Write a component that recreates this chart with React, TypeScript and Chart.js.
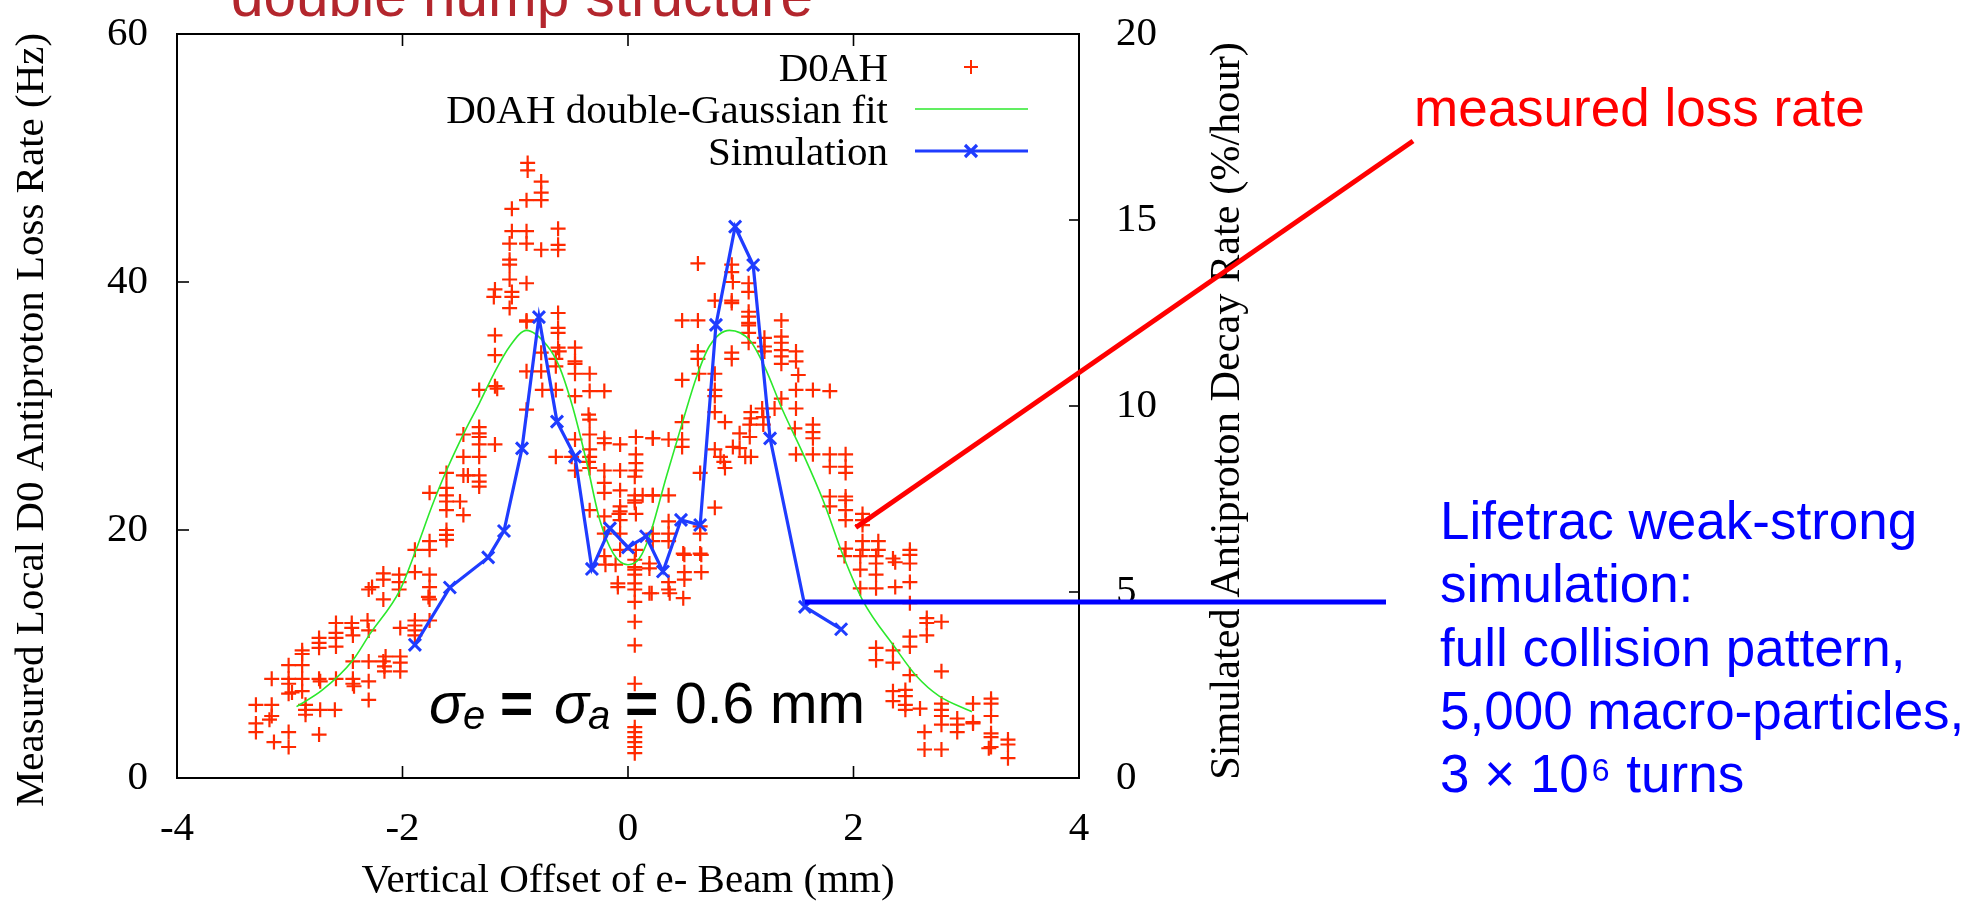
import React, { useEffect, useRef } from "react";
import { Chart, registerables } from "chart.js";

Chart.register(...registerables);

// ---------- data ----------
const xTickStep = 2;
const yTickStep = 20;
const y2TickStep = 5;

const lossLabel = "D0AH";
const fitLabel = "D0AH double-Gaussian fit";
const simLabel = "Simulation";

// measured local D0 loss rate (Hz) vs vertical offset (mm)
const lossPts: [number, number][] = [
  [-3.30, 5.9], [-3.16, 5.9], [-3.16, 5.0], [-3.30, 4.4], [-3.18, 4.7], [-3.30, 3.7], [-3.14, 2.9], [-3.01, 3.7], [-3.01, 2.5],
  [-3.16, 8.0], [-3.01, 8.0], [-3.01, 9.1], [-2.89, 9.1], [-3.01, 7.6], [-3.01, 6.8], [-2.98, 6.9], [-2.89, 10.3], [-2.89, 10.0],
  [-2.89, 8.0], [-2.89, 7.0], [-2.86, 5.9], [-2.86, 5.5], [-2.86, 5.1],
  [-2.74, 8.0], [-2.73, 7.8], [-2.73, 5.5], [-2.60, 5.5], [-2.74, 3.5], [-2.74, 11.3], [-2.74, 10.9], [-2.74, 10.5],
  [-2.59, 11.7], [-2.59, 11.3], [-2.59, 10.6], [-2.59, 8.0], [-2.59, 12.5], [-2.45, 12.5], [-2.45, 12.1], [-2.44, 11.5],
  [-2.31, 12.7], [-2.30, 11.9], [-2.44, 9.4], [-2.44, 8.0], [-2.44, 7.6], [-2.43, 7.4], [-2.30, 7.8], [-2.30, 6.3],
  [-2.30, 9.4], [-2.17, 9.4], [-2.15, 9.8], [-2.16, 9.0], [-2.16, 8.6], [-2.02, 9.8], [-2.02, 9.3], [-2.02, 8.6],
  [-2.30, 15.2], [-2.27, 15.4], [-2.17, 14.4], [-2.17, 16.5], [-2.17, 16.0], [-2.03, 16.4], [-2.03, 15.8], [-2.03, 15.2],
  [-1.89, 16.6], [-1.76, 16.4], [-1.76, 15.4], [-1.77, 14.6], [-1.76, 14.4], [-1.89, 12.7], [-1.89, 12.3], [-1.89, 11.9],
  [-1.89, 11.5], [-2.02, 12.1], [-1.76, 12.7], [-1.89, 18.4], [-1.76, 18.4],
  [-1.76, 19.1], [-1.61, 20.0], [-1.61, 19.6], [-1.61, 19.2], [-1.76, 23.0], [-1.61, 23.4], [-1.61, 22.8], [-1.61, 22.3],
  [-1.61, 21.6], [-1.61, 24.6], [-1.49, 22.3], [-1.46, 21.2], [-1.46, 24.4], [-1.42, 24.4], [-1.32, 24.4], [-1.32, 23.9],
  [-1.32, 23.5], [-1.46, 25.9], [-1.32, 25.9], [-1.46, 27.7], [-1.32, 28.3], [-1.32, 27.8], [-1.32, 27.5], [-1.32, 26.9],
  [-1.18, 26.9], [-1.32, 31.3], [-1.18, 31.6], [-1.16, 31.4], [-1.18, 34.1], [-1.18, 35.7], [-0.90, 32.8], [-0.77, 32.8],
  [-0.90, 29.7], [-0.90, 36.8], [-0.77, 34.3], [-0.76, 31.3], [-0.64, 31.3], [-0.62, 35.9], [-0.62, 34.7], [-0.61, 34.4],
  [-0.64, 33.8], [-0.64, 33.2], [-0.47, 34.7], [-0.47, 33.6], [-0.47, 33.4], [-0.47, 32.6], [-0.47, 30.8], [-0.34, 32.6],
  [-0.34, 31.2], [-0.21, 31.2], [-0.35, 29.3], [-0.34, 28.9], [-0.34, 27.7], [-0.47, 27.3], [-0.64, 25.9], [-0.50, 25.9],
  [-0.34, 26.5], [-0.34, 25.9], [-0.35, 25.5], [-0.34, 25.0], [-0.47, 24.8], [-0.21, 27.4], [-0.21, 27.0], [-0.07, 26.9],
  [0.07, 27.5], [0.22, 27.4], [0.07, 26.1], [0.07, 25.4], [0.07, 24.8], [0.06, 24.3], [-0.21, 24.8], [-0.07, 24.8],
  [-0.21, 23.8], [-0.21, 23.0], [-0.07, 23.2], [0.06, 22.8], [0.06, 22.4], [0.06, 22.2], [0.07, 21.3], [0.13, 22.8],
  [0.22, 22.8], [-0.07, 21.9], [-0.07, 21.5], [-0.08, 21.3], [-0.34, 21.6], [-0.21, 21.1], [-0.07, 20.8], [-0.21, 19.7],
  [-0.07, 19.7], [-0.07, 18.4], [-0.21, 17.9], [0.07, 18.4], [0.22, 19.7], [0.22, 19.1],
  [-0.89, 49.6], [-0.89, 49.0], [-0.77, 48.1], [-0.77, 47.2], [-0.77, 46.6], [-0.90, 46.6], [-1.03, 45.9], [-1.03, 44.1],
  [-0.90, 44.1], [-0.62, 44.3], [-1.05, 43.1], [-0.90, 43.1], [-0.77, 42.6], [-0.62, 43.0], [-0.62, 42.6], [-1.05, 41.8],
  [-1.05, 41.4], [-1.05, 40.2], [-0.90, 39.9], [-1.18, 39.4], [-1.19, 38.8], [-1.03, 39.2], [-1.03, 38.8], [-1.05, 37.9],
  [-0.90, 36.9], [-0.62, 37.5], [-0.62, 36.3],
  [0.06, 17.6], [0.06, 17.0], [0.06, 16.8], [0.06, 16.4], [0.06, 15.7], [0.06, 15.2], [0.06, 14.2], [0.06, 12.6],
  [0.06, 10.7], [0.06, 7.6], [0.06, 4.1], [0.06, 3.7], [0.06, 3.3], [0.06, 2.9], [0.06, 2.5], [0.06, 2.0],
  [-0.09, 15.7], [-0.09, 15.4], [0.19, 14.9], [-0.20, 17.2], [-0.11, 17.2],
  [0.62, 41.5], [0.92, 41.4], [0.92, 40.8], [0.93, 40.0], [1.07, 39.9], [1.07, 39.2], [0.77, 38.5], [0.92, 38.5],
  [0.92, 38.3], [1.07, 37.6], [1.07, 37.2], [1.07, 36.7], [1.36, 36.9], [0.48, 36.9], [0.62, 36.9], [1.07, 36.5],
  [1.07, 35.9], [1.07, 35.1], [1.21, 35.5], [1.21, 34.8], [1.21, 34.4], [1.36, 35.6], [1.36, 35.1], [1.36, 34.5],
  [1.36, 34.0], [1.36, 33.4], [1.49, 34.4], [1.49, 33.6], [1.51, 32.5], [1.49, 31.3], [1.64, 31.3], [1.79, 31.2],
  [0.62, 34.4], [0.62, 33.8], [0.92, 34.3], [0.92, 33.8], [0.63, 32.6], [0.77, 32.6], [0.48, 32.1], [0.77, 31.3],
  [0.77, 30.8], [0.77, 29.5], [0.86, 28.7], [0.48, 28.7], [0.22, 27.4], [0.36, 27.3], [0.48, 27.3], [0.48, 26.7],
  [1.09, 29.5], [1.09, 29.0], [1.08, 28.5], [1.08, 27.5], [1.19, 29.8], [1.20, 29.1], [1.20, 28.5], [1.30, 29.8],
  [0.99, 27.8], [0.99, 26.6], [0.93, 26.7], [0.77, 26.5], [0.82, 25.9], [0.85, 25.5], [0.86, 25.0], [1.04, 25.9],
  [1.09, 25.9], [1.36, 30.6], [1.49, 29.8], [1.48, 28.2], [1.64, 28.5], [1.64, 27.9], [1.64, 27.4], [1.49, 26.1],
  [1.64, 26.1], [1.79, 26.1], [1.93, 26.1], [1.79, 25.1], [1.93, 25.1], [1.93, 24.6], [1.79, 22.7], [1.93, 22.7],
  [1.93, 22.4], [1.79, 21.9], [1.93, 21.6], [1.93, 20.8], [2.08, 21.3], [2.08, 20.8], [2.08, 20.4], [0.64, 24.6],
  [0.77, 21.8], [0.22, 22.8], [0.36, 22.8], [0.36, 20.7], [0.36, 19.7], [0.36, 19.1], [0.64, 20.3], [0.64, 19.7],
  [0.49, 18.1], [0.64, 18.1], [1.93, 18.5], [2.08, 19.1], [2.08, 18.4], [2.22, 19.1], [2.22, 18.4], [2.50, 18.4],
  [2.35, 17.7],
  [0.19, 17.3], [0.19, 16.9], [0.50, 18.0], [0.65, 18.0], [0.50, 16.6], [0.50, 16.0], [0.65, 16.6], [0.36, 15.8],
  [0.36, 15.2], [0.37, 14.9], [0.21, 14.9], [0.49, 14.5], [1.92, 17.9], [2.06, 17.9], [2.20, 17.9], [2.20, 17.3],
  [2.37, 17.4], [2.50, 18.0], [2.50, 17.3], [2.06, 16.8], [2.20, 16.4], [2.20, 15.3], [2.06, 15.3], [2.37, 15.4],
  [2.50, 15.8], [2.50, 14.1], [2.65, 12.9], [2.65, 12.5], [2.78, 12.6], [2.65, 11.5], [2.50, 11.4], [2.50, 10.6],
  [2.20, 10.5], [2.20, 9.5], [2.35, 10.3], [2.35, 9.3], [2.78, 8.6], [2.50, 8.3], [2.35, 7.0], [2.35, 6.2],
  [2.46, 7.1], [2.46, 6.6], [2.46, 5.9], [2.46, 5.5], [2.59, 5.6], [2.78, 6.0], [2.78, 5.5], [2.78, 5.0],
  [2.78, 4.3], [2.92, 4.8], [2.92, 4.3], [2.92, 3.7], [3.06, 4.5], [3.06, 4.4], [3.06, 6.0], [3.22, 6.4],
  [3.22, 6.0], [3.22, 5.0], [3.22, 3.6], [3.22, 3.3], [3.22, 2.5], [3.20, 2.4], [3.37, 3.1], [3.37, 2.7],
  [3.37, 1.6], [2.63, 3.7], [2.63, 2.3], [2.78, 2.3],
];

// double-Gaussian fit
const fitX = [-2.94, -2.71, -2.44, -2.29, -2.02, -1.88, -1.74, -1.61, -1.44, -1.32, -1.19, -1.05, -0.9, -0.72, -0.61, -0.49, -0.37, -0.25, -0.13, 0.0, 0.1, 0.19, 0.34, 0.49, 0.61, 0.72, 0.9, 1.08, 1.21, 1.37, 1.55, 1.73, 1.91, 2.08, 2.37, 2.56, 2.76, 3.05];
const fitY = [5.75, 7.1, 9.5, 11.6, 15.2, 18.4, 21.9, 24.8, 28.1, 30.2, 32.6, 34.8, 36.1, 34.9, 33.2, 29.9, 25.6, 20.8, 18.1, 17.2, 17.7, 19.5, 24.3, 28.9, 32.4, 34.8, 36.1, 35.3, 33.2, 29.7, 26.2, 22.4, 17.9, 14.35, 10.5, 8.2, 6.6, 5.35];

// simulated decay rate (%/hour), right axis
const simX = [-1.89, -1.58, -1.24, -1.10, -0.94, -0.79, -0.63, -0.47, -0.32, -0.16, 0.0, 0.16, 0.31, 0.47, 0.64, 0.78, 0.95, 1.11, 1.26, 1.57, 1.89];
const simY = [3.58, 5.12, 5.93, 6.64, 8.86, 12.39, 9.58, 8.64, 5.62, 6.71, 6.2, 6.5, 5.55, 6.94, 6.8, 12.18, 14.82, 13.79, 9.13, 4.6, 4.0];

// ---------- styles ----------
const SERIF = "'Liberation Serif', 'Times New Roman', serif";
const SANS = "'Liberation Sans', Arial, sans-serif";
const RED = "#ff2a00";
const GREEN = "#2ce82c";
const BLUE = "#1f3cff";
const TICK_FONT = 41;

export default function App() {
  const ref = useRef<HTMLCanvasElement>(null);

  useEffect(() => {
    document.body.style.margin = "0";
    const canvas = ref.current!;

    const line = (ctx: CanvasRenderingContext2D, x1: number, y1: number, x2: number, y2: number) => {
      ctx.beginPath();
      ctx.moveTo(x1, y1);
      ctx.lineTo(x2, y2);
      ctx.stroke();
    };

    const noPad = (s: any) => {
      s.paddingTop = 0;
      s.paddingBottom = 0;
      s.paddingLeft = 0;
      s.paddingRight = 0;
    };

    const frame = {
      id: "frame",
      beforeDatasetsDraw(chart: any) {
        const { ctx, chartArea: a, scales } = chart;
        ctx.save();
        ctx.strokeStyle = "#000";
        ctx.lineWidth = 2;
        ctx.strokeRect(a.left, a.top, a.right - a.left, a.bottom - a.top);
        ctx.lineWidth = 1.6;
        const xt = scales.x.ticks.slice(1, -1);
        for (const t of xt) {
          const px = scales.x.getPixelForValue(t.value);
          line(ctx, px, a.bottom, px, a.bottom - 12);
          line(ctx, px, a.top, px, a.top + 12);
        }
        for (const t of scales.y.ticks.slice(1, -1)) {
          const py = scales.y.getPixelForValue(t.value);
          line(ctx, a.left, py, a.left + 12, py);
        }
        for (const t of scales.y2.ticks.slice(1, -1)) {
          const py = scales.y2.getPixelForValue(t.value);
          line(ctx, a.right, py, a.right - 10, py);
        }
        ctx.restore();
      },
    };

    const overlay = {
      id: "overlay",
      afterDraw(chart: any) {
        const { ctx, chartArea: a, scales } = chart;
        const ds = chart.data.datasets;
        ctx.save();

        // legend (gnuplot style, right aligned text + sample)
        ctx.fillStyle = "#000";
        ctx.font = `41px ${SERIF}`;
        ctx.textAlign = "right";
        ctx.textBaseline = "alphabetic";
        const textRight = 888;
        const s1 = 915, s2 = 1028, sc = 971;
        const rows = [81, 123, 165];
        const labels = [ds[2].label, ds[1].label, ds[0].label];
        labels.forEach((l: string, i: number) => ctx.fillText(l, textRight, rows[i]));
        // row 1: + marker
        ctx.strokeStyle = RED;
        ctx.lineWidth = 2;
        line(ctx, sc - 7, rows[0] - 14, sc + 7, rows[0] - 14);
        line(ctx, sc, rows[0] - 21, sc, rows[0] - 7);
        // row 2: green line
        ctx.strokeStyle = GREEN;
        ctx.lineWidth = 1.6;
        line(ctx, s1, rows[1] - 14, s2, rows[1] - 14);
        // row 3: blue line with x
        ctx.strokeStyle = BLUE;
        ctx.lineWidth = 3.2;
        line(ctx, s1, rows[2] - 14, s2, rows[2] - 14);
        const cy = rows[2] - 14;
        line(ctx, sc - 6, cy - 6, sc + 6, cy + 6);
        line(ctx, sc - 6, cy + 6, sc + 6, cy - 6);

        // axis titles
        ctx.fillStyle = "#000";
        ctx.font = `41px ${SERIF}`;
        ctx.textAlign = "center";
        ctx.textBaseline = "middle";
        ctx.fillText("Vertical Offset of e- Beam (mm)", (a.left + a.right) / 2, 881);
        ctx.save();
        ctx.translate(32, (a.top + a.bottom) / 2 + 14);
        ctx.rotate(-Math.PI / 2);
        ctx.fillText("Measured Local D0 Antiproton Loss Rate (Hz)", 0, 0);
        ctx.restore();
        ctx.save();
        ctx.font = `42.3px ${SERIF}`;
        ctx.translate(1228, (a.top + a.bottom) / 2 + 5);
        ctx.rotate(-Math.PI / 2);
        ctx.fillText("Simulated Antiproton Decay Rate (%/hour)", 0, 0);
        ctx.restore();

        // sigma annotation
        ctx.textAlign = "left";
        ctx.textBaseline = "alphabetic";
        ctx.fillStyle = "#000";
        const base = 723;
        ctx.font = `italic 58px ${SANS}`;
        ctx.fillText("σ", 429, base);
        ctx.font = `italic 40px ${SANS}`;
        ctx.fillText("e", 463, base + 6);
        ctx.font = `bold 57px ${SANS}`;
        ctx.fillText("=", 500, base);
        ctx.font = `italic 58px ${SANS}`;
        ctx.fillText("σ", 554, base);
        ctx.font = `italic 40px ${SANS}`;
        ctx.fillText("a", 588, base + 6);
        ctx.font = `bold 57px ${SANS}`;
        ctx.fillText("=", 625, base);
        ctx.font = `57px ${SANS}`;
        ctx.fillText("0.6 mm", 675, base);

        // callout lines
        ctx.lineCap = "butt";
        ctx.strokeStyle = "#ff0000";
        ctx.lineWidth = 5;
        const rx = scales.x.getPixelForValue(2.02);
        const ry = scales.y.getPixelForValue(20.2);
        line(ctx, rx, ry, 1413, 141);
        ctx.strokeStyle = "#0000ff";
        ctx.lineWidth = 5;
        line(ctx, 805, 602, 1386, 602);

        // texts
        ctx.fillStyle = "#ff0000";
        ctx.font = `53px ${SANS}`;
        ctx.fillText("measured loss rate", 1414, 126);

        ctx.fillStyle = "#0000ff";
        const bx = 1440;
        ctx.fillText("Lifetrac weak-strong", bx, 539);
        ctx.fillText("simulation:", bx, 602);
        ctx.fillText("full collision pattern,", bx, 666);
        ctx.fillText("5,000 macro-particles,", bx, 729);
        let x = bx;
        ctx.fillText("3 × 10", x, 792);
        x += ctx.measureText("3 × 10").width + 3;
        ctx.font = `32px ${SANS}`;
        ctx.fillText("6", x, 781);
        x += ctx.measureText("6").width + 2;
        ctx.font = `53px ${SANS}`;
        ctx.fillText(" turns", x, 792);

        // top title (cut off by the page edge)
        ctx.fillStyle = "#b3262d";
        ctx.font = `58.5px ${SANS}`;
        ctx.fillText("double hump structure", 231, 16);

        ctx.restore();
      },
    };

    const chart = new Chart(canvas, {
      type: "scatter",
      data: {
        datasets: [
          {
            label: simLabel,
            data: simX.map((x, i) => ({ x, y: simY[i] })),
            yAxisID: "y2",
            showLine: true,
            borderColor: BLUE,
            backgroundColor: BLUE,
            borderWidth: 3.2,
            pointStyle: "crossRot",
            pointRadius: 8.5,
            pointBorderWidth: 3,
            pointBorderColor: BLUE,
            order: 1,
          },
          {
            label: fitLabel,
            data: fitX.map((x, i) => ({ x, y: fitY[i] })),
            yAxisID: "y",
            showLine: true,
            borderColor: GREEN,
            borderWidth: 1.6,
            pointRadius: 0,
            cubicInterpolationMode: "monotone",
            order: 2,
          },
          {
            label: lossLabel,
            data: lossPts.map(([x, y]) => ({ x, y })),
            yAxisID: "y",
            showLine: false,
            pointStyle: "cross",
            pointRadius: 7.5,
            pointBorderWidth: 2.2,
            pointBorderColor: RED,
            borderColor: RED,
            backgroundColor: RED,
            order: 3,
          },
        ],
      },
      options: {
        responsive: false,
        animation: false,
        devicePixelRatio: 1,
        layout: { padding: { top: 34, left: 0, right: 0, bottom: 0 } },
        plugins: { legend: { display: false }, tooltip: { enabled: false }, title: { display: false } },
        scales: {
          x: {
            type: "linear",
            min: -4,
            max: 4,
            grid: { display: false, drawTicks: false },
            border: { display: false },
            ticks: { stepSize: xTickStep, color: "#000", font: { family: SERIF, size: TICK_FONT }, padding: 27 },
            afterFit: (s: any) => { s.height = 126; noPad(s); },
          },
          y: {
            type: "linear",
            position: "left",
            min: 0,
            max: 60,
            grid: { display: false, drawTicks: false },
            border: { display: false },
            ticks: { stepSize: yTickStep, color: "#000", font: { family: SERIF, size: TICK_FONT }, padding: 29 },
            afterFit: (s: any) => { s.width = 177; noPad(s); },
          },
          y2: {
            type: "linear",
            position: "right",
            min: 0,
            max: 20,
            grid: { display: false, drawTicks: false },
            border: { display: false },
            ticks: { stepSize: y2TickStep, color: "#000", font: { family: SERIF, size: TICK_FONT }, padding: 37 },
            afterFit: (s: any) => { s.width = 904; noPad(s); },
          },
        },
      },
      plugins: [frame, overlay],
    } as any);

    return () => chart.destroy();
  }, []);

  return (
    <div style={{ width: 1983, height: 904, position: "relative", overflow: "hidden" }}>
      <canvas ref={ref} width={1983} height={904} style={{ display: "block" }} />
    </div>
  );
}
